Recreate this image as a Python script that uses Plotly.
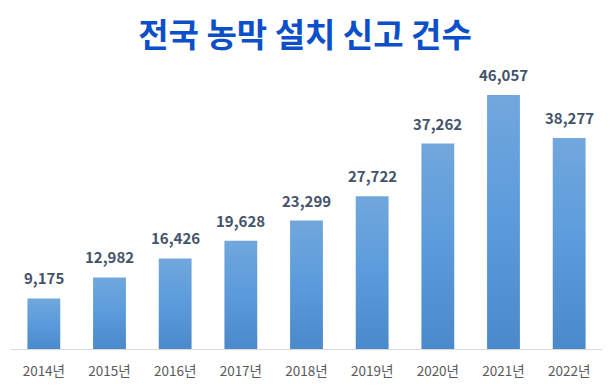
import plotly.graph_objects as go

years = ["2014년", "2015년", "2016년", "2017년", "2018년", "2019년", "2020년", "2021년", "2022년"]
counts = [9175, 12982, 16426, 19628, 23299, 27722, 37262, 46057, 38277]
labels = [f"{v:,}" for v in counts]

half_w = 0.25
fig = go.Figure()
for i, v in enumerate(counts):
    fig.add_trace(go.Scatter(
        x=[i - half_w, i + half_w, i + half_w, i - half_w, i - half_w],
        y=[0, 0, v, v, 0],
        mode="lines", line=dict(width=0, color="rgba(0,0,0,0)"),
        fill="toself",
        fillgradient=dict(type="vertical",
                          colorscale=[[0, "#4a8acb"], [0.5, "#5b9bdc"], [1, "#71a7dc"]]),
        hoverinfo="skip", showlegend=False,
    ))
for i, (v, lab) in enumerate(zip(counts, labels)):
    fig.add_annotation(x=i, y=v, text=f"<b>{lab}</b>", showarrow=False,
                       yanchor="bottom", yshift=8,
                       font=dict(family="Noto Sans CJK KR, Noto Sans", size=15, color="#44546a"))
fig.update_layout(
    width=602, height=381,
    margin=dict(l=3, r=8, t=67, b=40),
    paper_bgcolor="white", plot_bgcolor="white",
    showlegend=False,
    title=dict(text="<b>전국 농막 설치 신고 건수</b>", x=0.4934, xanchor="center", y=0.929, yanchor="middle",
               font=dict(family="Noto Sans CJK KR", size=33, color="#0b4fc9")),
    xaxis=dict(range=[-0.5, len(years) - 0.5], tickmode="array",
               tickvals=list(range(len(years))), ticktext=years,
               showline=True, linecolor="#d9d9d9", linewidth=1, showgrid=False, zeroline=False,
               ticks="", ticklabelstandoff=10,
               tickfont=dict(family="Noto Sans CJK KR, Noto Sans", size=13.5, color="#595959")),
    yaxis=dict(range=[0, 49700], visible=False, showgrid=False),
)
fig.write_html("out.html")
